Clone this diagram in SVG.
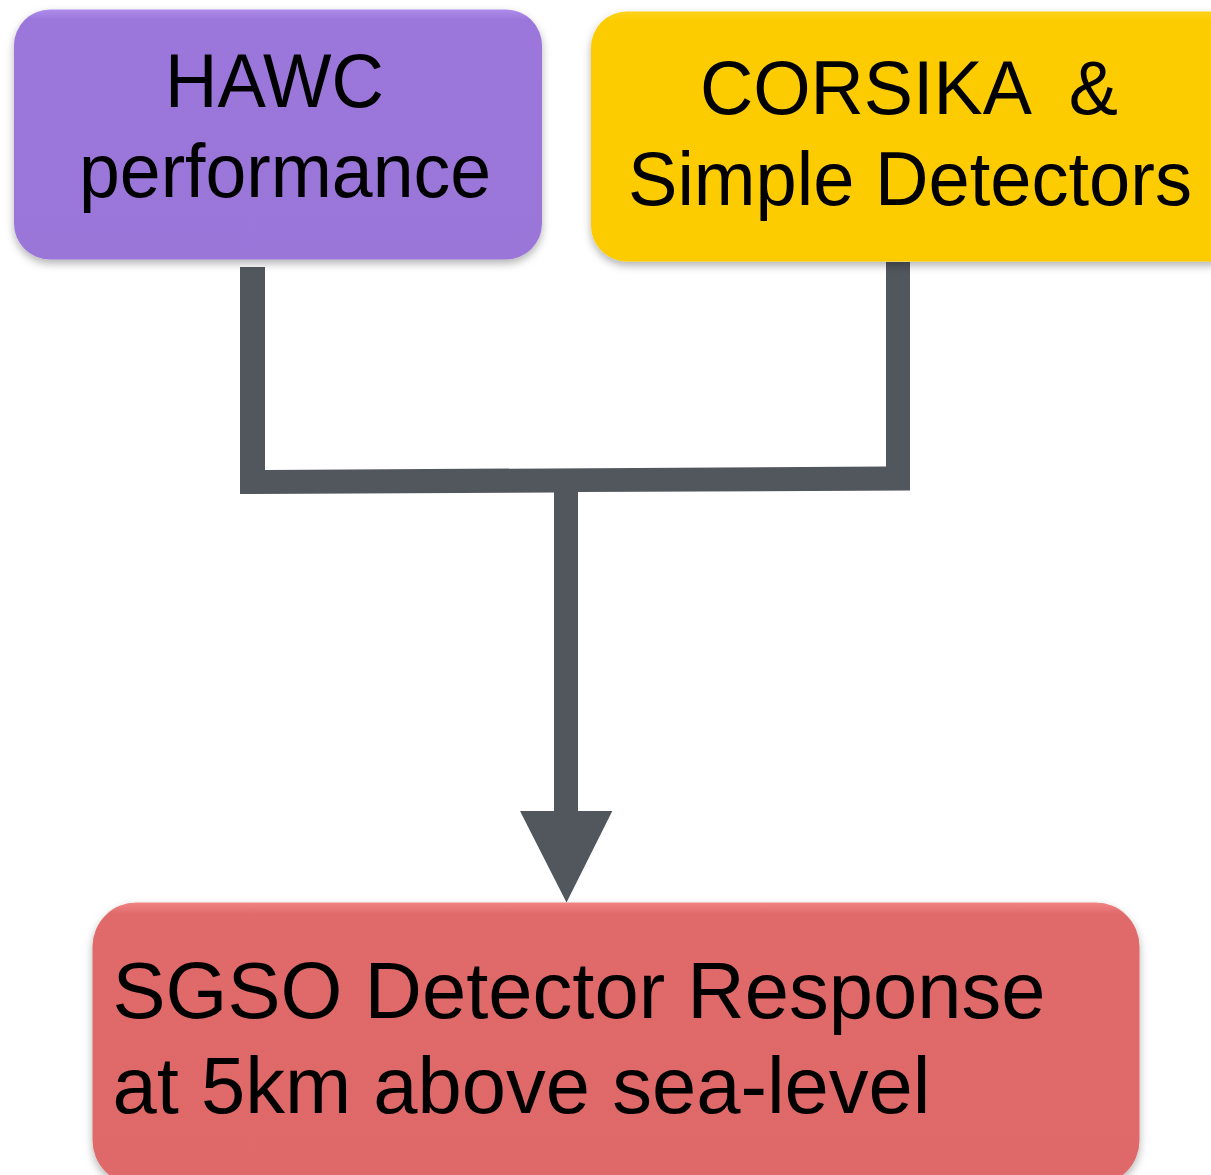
<svg xmlns="http://www.w3.org/2000/svg" width="1211" height="1175" viewBox="0 0 1211 1175">
  <style>
    .lbl { font-family: "Liberation Sans", Arial, sans-serif; font-size: 76px; fill: #000; white-space: pre; }
    .big { font-size: 80px; }
    .conn { fill: #52575E; }
  </style>
  <defs>
    <filter id="shadow" x="-10%" y="-10%" width="120%" height="130%">
      <feDropShadow dx="0" dy="4" stdDeviation="4" flood-color="#000" flood-opacity="0.3"/>
    </filter>
    <linearGradient id="purpleGrad" x1="0" y1="0" x2="0" y2="1">
      <stop offset="0" stop-color="#AE8CEB"/>
      <stop offset="0.04" stop-color="#9B77DB"/>
      <stop offset="1" stop-color="#9A76D9"/>
    </linearGradient>
    <linearGradient id="yellowGrad" x1="0" y1="0" x2="0" y2="1">
      <stop offset="0" stop-color="#FDD21A"/>
      <stop offset="0.04" stop-color="#FCCC00"/>
      <stop offset="1" stop-color="#FCCC00"/>
    </linearGradient>
    <linearGradient id="redGrad" x1="0" y1="0" x2="0" y2="1">
      <stop offset="0" stop-color="#F28484"/>
      <stop offset="0.04" stop-color="#E06A6A"/>
      <stop offset="1" stop-color="#DF6868"/>
    </linearGradient>
  </defs>
  <rect width="1211" height="1175" fill="#FFFFFF"/>

  <g id="connectors">
    <polygon class="conn" points="240,267 265,267 265,470 886,466.5 886,262 910,262 910,490.5 578,492 578,811 612.3,811 566.5,902.5 520,811 554,811 554,492.5 240,494"/>
  </g>

  <g id="node-hawc">
    <rect x="14" y="9.5" width="528" height="250" rx="36" ry="36" fill="url(#purpleGrad)" filter="url(#shadow)"/>
    <text class="lbl" x="165" y="106.5" textLength="219" lengthAdjust="spacingAndGlyphs">HAWC</text>
    <text class="lbl" x="79" y="196.5" textLength="412" lengthAdjust="spacingAndGlyphs">performance</text>
  </g>

  <g id="node-corsika">
    <rect x="591" y="11.5" width="660" height="250" rx="36" ry="36" fill="url(#yellowGrad)" filter="url(#shadow)"/>
    <text class="lbl" x="700" y="114.3" textLength="418" lengthAdjust="spacingAndGlyphs">CORSIKA  &amp;</text>
    <text class="lbl" x="628" y="205" textLength="564" lengthAdjust="spacingAndGlyphs">Simple Detectors</text>
  </g>

  <g id="node-sgso">
    <rect x="92.5" y="902.5" width="1047" height="282" rx="44" ry="44" fill="url(#redGrad)" filter="url(#shadow)"/>
    <text class="lbl big" x="112.5" y="1017.7" textLength="933" lengthAdjust="spacingAndGlyphs">SGSO Detector Response</text>
    <text class="lbl big" x="112.5" y="1113.3" textLength="818" lengthAdjust="spacingAndGlyphs">at 5km above sea-level</text>
  </g>
</svg>
